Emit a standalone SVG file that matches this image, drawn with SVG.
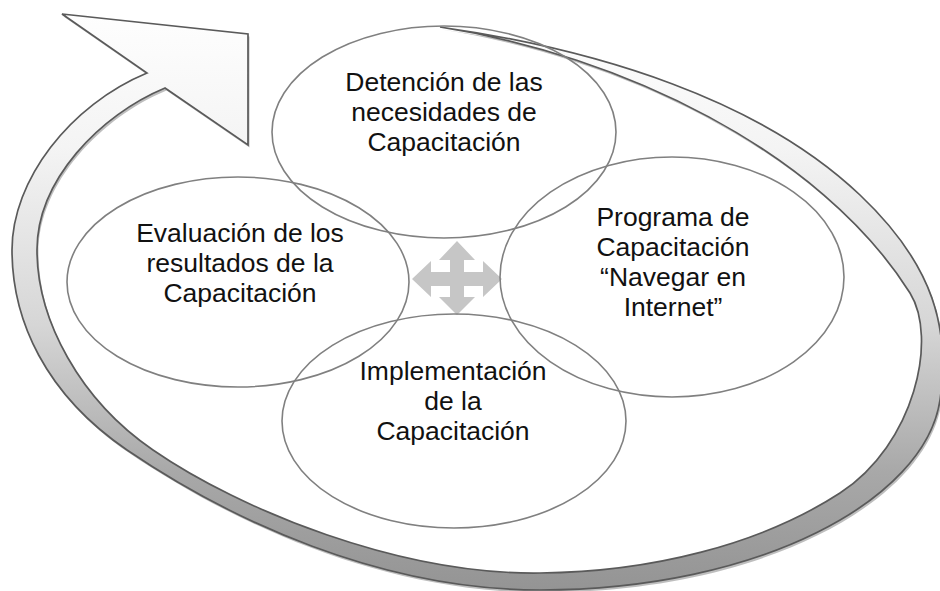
<svg xmlns="http://www.w3.org/2000/svg" width="940" height="591" viewBox="0 0 940 591">
  <style>
    .ell { fill: none; stroke: #808080; stroke-width: 1.6; }
    .lbl { font-family: "Liberation Sans", Arial, sans-serif; font-size: 26.5px; fill: #111; text-anchor: middle; }
    .band { fill: url(#bandGrad); stroke: #5a5a5a; stroke-width: 1.7; stroke-linejoin: miter; }
    .bandShadow { fill: #b3b3b3; opacity: 0.85; }
    .cross { fill: #c6c6c6; }
  </style>
  <defs>
    <linearGradient id="bandGrad" gradientUnits="userSpaceOnUse" x1="0" y1="0" x2="0" y2="591">
      <stop offset="0" stop-color="#ffffff"/>
      <stop offset="0.25" stop-color="#f4f4f4"/>
      <stop offset="0.55" stop-color="#d6d6d6"/>
      <stop offset="0.8" stop-color="#a8a8a8"/>
      <stop offset="1" stop-color="#949494"/>
    </linearGradient>
  </defs>

  <g id="connectors">
    <g id="cycle-arrow">
      <path class="bandShadow" transform="translate(1.5,2.5)" d="M 440,27 C 600,50 760,100 860,195 C 935,266 950,330 940,400 C 925,500 760,590 540,590 C 380,590 230,520 127,450 C 45,394 12,320 12,250 C 12,180 70,105 147,73 L 62,14 L 248,34 L 248,145 L 165,88 C 100,115 37,180 37,250 C 37,320 80,400 153,450 C 240,510 400,575 540,573 C 650,572 760,545 840,493 C 915,444 938,338 910,293 C 820,150 620,55 440,27 Z"/>
      <path class="band" d="M 440,27 C 600,50 760,100 860,195 C 935,266 950,330 940,400 C 925,500 760,590 540,590 C 380,590 230,520 127,450 C 45,394 12,320 12,250 C 12,180 70,105 147,73 L 62,14 L 248,34 L 248,145 L 165,88 C 100,115 37,180 37,250 C 37,320 80,400 153,450 C 240,510 400,575 540,573 C 650,572 760,545 840,493 C 915,444 938,338 910,293 C 820,150 620,55 440,27 Z"/>
    </g>
    <polygon id="four-way-arrow" class="cross" points="457,241 475,260 464,260 464,272 483,272 483,261 502,279 483,297 483,286 464,286 464,297 475,297 457,315 439,297 450,297 450,286 431,286 431,297 412,279 431,261 431,272 450,272 450,260 439,260"/>
  </g>

  <g id="node-detencion">
    <ellipse class="ell" cx="444" cy="132" rx="172" ry="106"/>
    <text class="lbl" x="444" y="91">Detención de las</text>
    <text class="lbl" x="444" y="121">necesidades de</text>
    <text class="lbl" x="444" y="151">Capacitación</text>
  </g>

  <g id="node-programa">
    <ellipse class="ell" cx="672" cy="277" rx="172" ry="120"/>
    <text class="lbl" x="673" y="226">Programa de</text>
    <text class="lbl" x="673" y="256">Capacitación</text>
    <text class="lbl" x="673" y="286">“Navegar en</text>
    <text class="lbl" x="673" y="316">Internet”</text>
  </g>

  <g id="node-evaluacion">
    <ellipse class="ell" cx="238" cy="282" rx="171" ry="105"/>
    <text class="lbl" x="240" y="242">Evaluación de los</text>
    <text class="lbl" x="240" y="272">resultados de la</text>
    <text class="lbl" x="240" y="302">Capacitación</text>
  </g>

  <g id="node-implementacion">
    <ellipse class="ell" cx="454" cy="421" rx="172" ry="107"/>
    <text class="lbl" x="453" y="380">Implementación</text>
    <text class="lbl" x="453" y="410">de la</text>
    <text class="lbl" x="453" y="440">Capacitación</text>
  </g>
</svg>
